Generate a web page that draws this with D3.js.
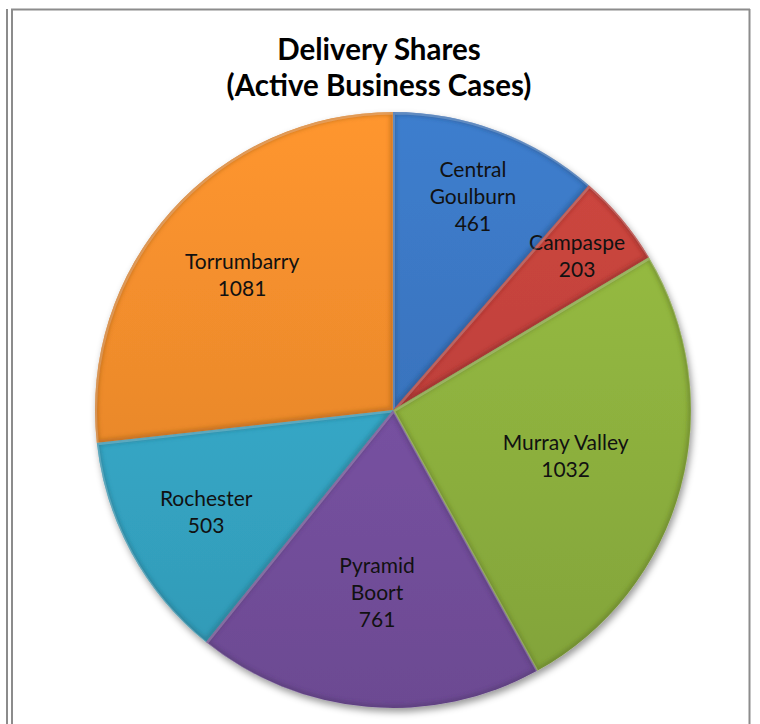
<!DOCTYPE html>
<html>
<head>
<meta charset="utf-8">
<script src="https://d3js.org/d3.v7.min.js"></script>
<style>
  html, body { margin: 0; padding: 0; background: #fff; }
  svg { display: block; }
</style>
</head>
<body>
<div id="chart"></div>
<script>
// Chart data
const categories = ['Central Goulburn', 'Campaspe', 'Murray Valley', 'Pyramid Boort', 'Rochester', 'Torrumbarry'];
const labelLines = [['Central', 'Goulburn'], ['Campaspe'], ['Murray Valley'], ['Pyramid', 'Boort'], ['Rochester'], ['Torrumbarry']];
const values = [461, 203, 1032, 761, 503, 1081];
const titleLines = ['Delivery Shares', '(Active Business Cases)'];

// Look & layout
const sliceColors = ['#3a75c0', '#c2423c', '#90b43f', '#7852a3', '#36a9c8', '#f28c2c'];
const labelRadius = [0.765, 0.805, 0.6, 0.615, 0.715, 0.68]; // "best fit" label distance, share of radius

const width = 760, height = 724;
const cx = 393, cy = 410, radius = 298;
const titleX = 379;

const svg = d3.select('#chart').append('svg')
    .attr('width', width)
    .attr('height', height);

// Frame lines
const frame = svg.append('g').attr('stroke', '#8c8c8c').attr('stroke-width', 2).attr('fill', 'none');
frame.append('line').attr('x1', 7).attr('y1', 9).attr('x2', 7).attr('y2', height);
frame.append('line').attr('x1', 12).attr('y1', 9.5).attr('x2', 12).attr('y2', height);
frame.append('line').attr('x1', 11).attr('y1', 9.5).attr('x2', 750).attr('y2', 9.5);
frame.append('line').attr('x1', 749.5).attr('y1', 9).attr('x2', 749.5).attr('y2', height);

const defs = svg.append('defs');

// Drop shadow for the whole pie
const shadow = defs.append('filter').attr('id', 'shadow')
    .attr('x', '-10%').attr('y', '-10%').attr('width', '120%').attr('height', '120%');
shadow.append('feDropShadow')
    .attr('dx', 2).attr('dy', 4).attr('stdDeviation', 3.5)
    .attr('flood-color', '#000').attr('flood-opacity', 0.4);

const soft = defs.append('filter').attr('id', 'soft');
soft.append('feGaussianBlur').attr('stdDeviation', 2);

// Vertical gradient per slice: lighter on top, darker toward the bottom
sliceColors.forEach((c, i) => {
    const g = defs.append('linearGradient').attr('id', 'grad' + i)
        .attr('gradientUnits', 'userSpaceOnUse')
        .attr('x1', 0).attr('y1', -radius).attr('x2', 0).attr('y2', radius);
    g.append('stop').attr('offset', '0%').attr('stop-color', d3.color(c).brighter(0.2));
    g.append('stop').attr('offset', '100%').attr('stop-color', d3.color(c).darker(0.3));
});

// Title
const title = svg.append('text')
    .attr('text-anchor', 'middle')
    .attr('font-family', 'Lato, "Open Sans", sans-serif')
    .attr('font-weight', 'bold')
    .attr('font-size', '29.5px')
    .attr('fill', '#000');
titleLines.forEach((t, i) => {
    title.append('tspan').attr('x', titleX).attr('y', 60 + i * 36).text(t);
});

const pie = d3.pie().sort(null).value(d => d);
const arcs = pie(values);
const arc = d3.arc().innerRadius(0).outerRadius(radius);

const pieG = svg.append('g')
    .attr('transform', `translate(${cx},${cy})`);

// Clip paths so each slice's edge shading stays inside it
arcs.forEach((d, i) => {
    defs.append('clipPath').attr('id', 'clip' + i)
        .append('path').attr('d', arc(d)).attr('transform', `translate(${cx},${cy})`);
});

const slices = pieG.append('g').attr('filter', 'url(#shadow)');
const sliceG = slices.selectAll('g')
    .data(arcs)
    .join('g');

sliceG.append('path')
    .attr('d', arc)
    .attr('fill', (d, i) => `url(#grad${i})`);

// Inner bevel: dark soft edge plus a light rim, clipped to the slice
const bevelG = svg.append('g');
arcs.forEach((d, i) => {
    const g = bevelG.append('g').attr('clip-path', `url(#clip${i})`);
    g.append('path')
        .attr('d', arc(d))
        .attr('transform', `translate(${cx},${cy})`)
        .attr('fill', 'none')
        .attr('stroke', d3.color(sliceColors[i]).darker(1.4))
        .attr('stroke-opacity', 0.45)
        .attr('stroke-width', 6)
        .attr('stroke-linejoin', 'round')
        .attr('filter', 'url(#soft)');
    g.append('path')
        .attr('d', arc(d))
        .attr('transform', `translate(${cx + 0.8},${cy + 1.2})`)
        .attr('fill', 'none')
        .attr('stroke', '#fff')
        .attr('stroke-opacity', 0.22)
        .attr('stroke-width', 2.5)
        .attr('stroke-linejoin', 'round');
});

// Labels
const lineHeight = 27;
const labels = pieG.append('g')
    .attr('font-family', 'Lato, "Open Sans", sans-serif')
    .attr('font-size', '21px')
    .attr('fill', '#111')
    .attr('text-anchor', 'middle');

arcs.forEach((d, i) => {
    const r = radius * labelRadius[i];
    const mid = (d.startAngle + d.endAngle) / 2;
    const x = Math.sin(mid) * r;
    const y = -Math.cos(mid) * r;
    const lines = labelLines[i].concat([String(values[i])]);
    const top = y - (lines.length - 1) * lineHeight / 2;
    const t = labels.append('text');
    lines.forEach((ln, k) => {
        t.append('tspan')
            .attr('x', x)
            .attr('y', top + k * lineHeight)
            .attr('dy', '0.35em')
            .text(ln);
    });
});
</script>
</body>
</html>
